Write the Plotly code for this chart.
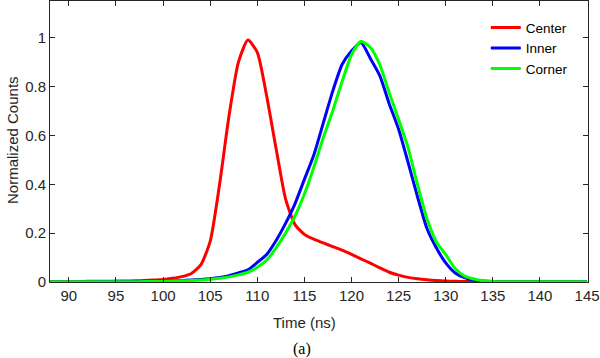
import plotly.graph_objects as go

time_ns = list(range(88, 146))

center = [0.002, 0.002, 0.002, 0.002, 0.003, 0.003, 0.003, 0.004, 0.004, 0.005,
          0.006, 0.008, 0.010, 0.015, 0.022, 0.035, 0.070, 0.166, 0.40, 0.68,
          0.90, 0.99, 0.94, 0.76, 0.545, 0.34, 0.235, 0.195, 0.175, 0.16,
          0.145, 0.13, 0.113, 0.095, 0.077, 0.058, 0.040, 0.028, 0.019, 0.013,
          0.009, 0.006, 0.004, 0.003, 0.002, 0.002, 0.001, 0.001, 0.001, 0.001,
          0.001, 0.001, 0.001, 0.001, 0.001, 0.001, 0.001, 0.001]

inner = [0.001, 0.001, 0.001, 0.001, 0.001, 0.002, 0.002, 0.002, 0.002, 0.002,
         0.003, 0.003, 0.004, 0.005, 0.006, 0.008, 0.010, 0.013, 0.018, 0.026,
         0.037, 0.050, 0.080, 0.113, 0.17, 0.24, 0.32, 0.42, 0.52, 0.65,
         0.78, 0.89, 0.945, 0.98, 0.915, 0.845, 0.73, 0.625, 0.49, 0.35,
         0.22, 0.14, 0.078, 0.037, 0.018, 0.008, 0.004, 0.002, 0.001, 0.001,
         0.001, 0.001, 0.001, 0.001, 0.001, 0.001, 0.001, 0.001]

corner = [0.001, 0.001, 0.001, 0.001, 0.001, 0.001, 0.001, 0.001, 0.001, 0.001,
          0.002, 0.002, 0.003, 0.004, 0.005, 0.006, 0.008, 0.011, 0.015, 0.021,
          0.029, 0.040, 0.060, 0.090, 0.14, 0.20, 0.27, 0.36, 0.47, 0.59,
          0.70, 0.82, 0.93, 0.985, 0.96, 0.89, 0.775, 0.665, 0.55, 0.40,
          0.26, 0.165, 0.112, 0.055, 0.024, 0.012, 0.005, 0.002, 0.001, 0.001,
          0.001, 0.001, 0.001, 0.001, 0.001, 0.001, 0.001, 0.001]

series_names = ["Center", "Inner", "Corner"]
series_colors = ["#ff0000", "#0000ff", "#00ff00"]
series_values = [center, inner, corner]

x_ticks = [90, 95, 100, 105, 110, 115, 120, 125, 130, 135, 140, 145]
y_ticks = [0, 0.2, 0.4, 0.6, 0.8, 1]
y_tick_labels = ["0", "0.2", "0.4", "0.6", "0.8", "1"]

fig = go.Figure()
for name, color, vals in zip(series_names, series_colors, series_values):
    fig.add_trace(go.Scatter(x=time_ns, y=vals, mode="lines", name=name,
                             line=dict(color=color, width=3, shape="spline", smoothing=0.6)))

axis_color = "#262626"
font_family = "Liberation Sans, Arial, sans-serif"

fig.update_layout(
    width=600, height=358,
    margin=dict(l=50, r=12, t=1, b=76, autoexpand=False),
    paper_bgcolor="white", plot_bgcolor="white",
    font=dict(family=font_family, size=15, color=axis_color),
    legend=dict(x=0.81, y=0.96, xanchor="left", yanchor="top",
                bgcolor="rgba(0,0,0,0)", font=dict(size=13.5, color="black"),
                tracegroupgap=0, itemwidth=30),
    showlegend=True,
)
fig.update_xaxes(range=[88, 145.1], tickvals=x_ticks, ticks="inside", ticklen=5,
                 showline=True, linecolor=axis_color, linewidth=1, mirror="ticks",
                 tickcolor=axis_color, showgrid=False, zeroline=False,
                 automargin=False, tickfont=dict(size=15))
fig.update_yaxes(range=[0, 1.15], tickvals=y_ticks, ticktext=y_tick_labels,
                 ticks="inside", ticklen=5,
                 showline=True, linecolor=axis_color, linewidth=1, mirror="ticks",
                 tickcolor=axis_color, showgrid=False, zeroline=False,
                 automargin=False, tickfont=dict(size=15))

# axis titles as annotations for precise placement
fig.add_annotation(text="Time (ns)", xref="paper", yref="paper",
                   x=(304 - 50) / 538, y=-(322 - 282) / 281,
                   xanchor="center", yanchor="middle", showarrow=False,
                   font=dict(size=15, color=axis_color))
fig.add_annotation(text="Normalized Counts", xref="paper", yref="paper",
                   x=-(50 - 12) / 538, y=(282 - 140) / 281, textangle=-90,
                   xanchor="center", yanchor="middle", showarrow=False,
                   font=dict(size=15, color=axis_color))
fig.add_annotation(text="(a)", xref="paper", yref="paper",
                   x=(302 - 50) / 538, y=-(349 - 282) / 281,
                   xanchor="center", yanchor="middle", showarrow=False,
                   font=dict(family="Liberation Serif, Times New Roman, serif", size=16, color="black"))

fig.write_html("out.html", config={"displayModeBar": False},
               post_script="document.body.style.margin='0';document.body.style.padding='0';")
